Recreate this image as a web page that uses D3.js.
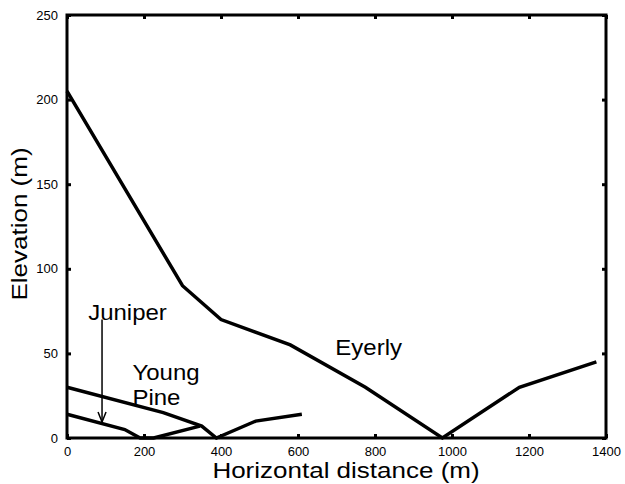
<!DOCTYPE html>
<html><head><meta charset="utf-8">
<script src="https://cdn.jsdelivr.net/npm/d3@7"></script>
<style>body{margin:0;background:#fff}svg{display:block}text{font-family:"Liberation Sans",Arial,sans-serif}</style>
</head><body>
<svg id="c" width="625" height="484"></svg>
<script>
const eyerlyX = [0, 300, 400, 580, 775, 975, 1175, 1375];
const eyerlyY = [205, 90, 70, 55, 30, 0, 30, 45];
const juniperX = [0, 150, 190, 225, 345];
const juniperY = [14, 5, 0, 0, 7];
const youngPineX = [0, 250, 350, 388, 490, 610];
const youngPineY = [30, 15, 7, 0, 10, 14];
const xTicks = [0, 200, 400, 600, 800, 1000, 1200, 1400];
const yTicks = [0, 50, 100, 150, 200, 250];
const labels = [
  {text: "Juniper", x: 55, y: 70},
  {text: "Young", x: 170, y: 34},
  {text: "Pine", x: 170, y: 19.5},
  {text: "Eyerly", x: 697, y: 49}
];
const arrow = {x: 91, y0: 70, y1: 9.5};

const svg = d3.select("#c");
const L = 67, R = 606, T = 15, B = 438;
const x = d3.scaleLinear().domain([0, 1400]).range([L, R]);
const y = d3.scaleLinear().domain([0, 250]).range([B, T]);

const tickLen = 4;
const fmt = d3.format("d");
const gB = svg.append("g").attr("transform", `translate(0,${B})`)
  .call(d3.axisBottom(x).tickValues(xTicks).tickFormat(fmt).tickSizeInner(-tickLen).tickSizeOuter(0).tickPadding(9));
const gT = svg.append("g").attr("transform", `translate(0,${T})`)
  .call(d3.axisTop(x).tickValues(xTicks).tickSizeInner(-tickLen).tickSizeOuter(0).tickFormat(""));
const gL = svg.append("g").attr("transform", `translate(${L},0)`)
  .call(d3.axisLeft(y).tickValues(yTicks).tickFormat(fmt).tickSizeInner(-tickLen).tickSizeOuter(0).tickPadding(9));
const gR = svg.append("g").attr("transform", `translate(${R},0)`)
  .call(d3.axisRight(y).tickValues(yTicks).tickSizeInner(-tickLen).tickSizeOuter(0).tickFormat(""));
[gB, gT, gL, gR].forEach(g => {
  g.select(".domain").remove();
  g.selectAll(".tick line").attr("stroke", "#000").attr("stroke-width", 3);
  g.selectAll(".tick text").attr("fill", "#000").style("font-size", "13px");
});
svg.append("rect").attr("x", L).attr("y", T).attr("width", R - L).attr("height", B - T)
  .attr("fill", "none").attr("stroke", "#000").attr("stroke-width", 3);

const line = d3.line().x(d => x(d[0])).y(d => y(d[1]));
const series = [[eyerlyX, eyerlyY], [juniperX, juniperY], [youngPineX, youngPineY]];
series.forEach(([xs, ys]) => {
  svg.append("path").datum(xs.map((v, i) => [v, ys[i]]))
    .attr("d", line).attr("fill", "none").attr("stroke", "#000")
    .attr("stroke-width", 3.5).attr("stroke-linejoin", "miter");
});

const ax = x(arrow.x), ay0 = y(arrow.y0), ay1 = y(arrow.y1);
svg.append("line").attr("x1", ax).attr("x2", ax).attr("y1", ay0).attr("y2", ay1)
  .attr("stroke", "#000").attr("stroke-width", 1.5);
svg.append("path").attr("d", `M${ax-4},${ay1-10}L${ax},${ay1}L${ax+4},${ay1-10}`)
  .attr("fill", "none").attr("stroke", "#000").attr("stroke-width", 1.5);

labels.forEach(l => {
  svg.append("text").attr("transform", `translate(${x(l.x)},${y(l.y)}) scale(1,0.92)`).text(l.text)
    .style("font-size", "24px").attr("fill", "#000");
});

svg.append("text").attr("transform", "translate(346,478) scale(1,0.82)").attr("text-anchor", "middle")
  .style("font-size", "26px").text("Horizontal distance (m)");
svg.append("text").attr("transform", "translate(27,224) rotate(-90) scale(1,0.82)").attr("text-anchor", "middle")
  .style("font-size", "26px").text("Elevation (m)");
</script>
</body></html>
